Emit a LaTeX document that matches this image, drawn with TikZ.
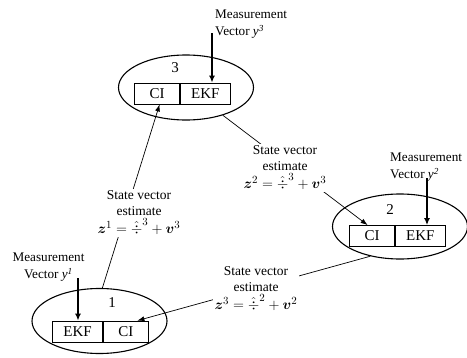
\documentclass[tikz,border=0pt]{standalone}
\usepackage{fontspec}
\setmainfont{Liberation Serif}
\usepackage{amsmath}
\usepackage{bm}
\usetikzlibrary{positioning, shapes.geometric, arrows.meta}

\newcommand{\estfont}{\fontsize{13.5}{16}\selectfont}
\newcommand{\formula}[1]{{\fontsize{15}{17}\selectfont $#1$}}

\begin{document}
\begin{tikzpicture}[
			x=1pt, y=-1pt,
			node distance=0pt,
			agent/.style={draw, ellipse, line width=1.1pt, minimum width=135pt, minimum height=65pt},
			filterbox/.style={draw, line width=0.8pt, minimum height=21pt, inner sep=0pt,
				font=\fontsize{15}{17}\selectfont},
			cibox/.style={filterbox, minimum width=45pt},
			ekfbox/.style={filterbox, minimum width=50pt},
			num/.style={font=\fontsize{15}{17}\selectfont, inner sep=0pt},
			meastext/.style={font=\fontsize{13.2}{17}\selectfont, inner sep=0pt},
			estlabel/.style={fill=white, align=center, inner sep=2pt, font=\estfont},
			link/.style={line width=0.7pt, -{Latex[length=7pt, width=5pt]}},
			meas/.style={line width=1.6pt, -{Latex[length=7pt, width=6pt]}}
			]
			
			\useasboundingbox (0,0) rectangle (467,357);
			
			% Agents
			\node[agent] (e3) at (186,87.5) {};
			\node[agent] (e2) at (400,226.5) {};
			\node[agent] (e1) at (99.5,321) {};
			
			\node[num] (n3) at (175,68) {3};
			\node[num] (n2) at (390,210) {2};
			\node[num] (n1) at (112,303) {1};
			
			% Filter boxes
			\node[cibox, anchor=east] (ci3) at (180,93.5) {CI};
			\node[ekfbox, right=of ci3] (ekf3) {EKF};
			\node[cibox, anchor=east] (ci2) at (395,236) {CI};
			\node[ekfbox, right=of ci2] (ekf2) {EKF};
			\node[ekfbox, anchor=east] (ekf1) at (103,331.5) {EKF};
			\node[cibox, right=of ekf1] (ci1) {CI};
			
			% Measurements
			\node[meastext, align=left, anchor=west] (m3) at (215,24.5) {Measurement\\Vector \textit{y\textsuperscript{3}}};
			\node[meastext, align=left, anchor=west] (m2) at (390,167.5) {Measurement\\Vector \textit{y\textsuperscript{2}}};
			\node[meastext, align=center] (m1) at (48.5,267.5) {Measurement\\Vector \textit{y\textsuperscript{1}}};
			
			\coordinate (m3tail) at (212,33);
			\coordinate (m2tail) at (427,178);
			\coordinate (m1tail) at (78,278);
			\draw[meas] (m3tail) -- (m3tail |- ekf3.north);
			\draw[meas] (m2tail) -- (m2tail |- ekf2.north);
			\draw[meas] (m1tail) -- (m1tail |- ekf1.north);
			
			% Estimates passed on
			\draw[link] (e1.85) -- ([xshift=2.5pt]ci3.south);
			\draw[link] (e3.-37) -- ([xshift=-4.5pt]ci2.north);
			\draw[link] (e2.-135) -- ([xshift=11.5pt]ci1.north);
			
			\node[estlabel] (la) at (139,213) {State vector\\estimate\\[2pt]\formula{\bm{z}^1 = \hat{\div}^3 + \bm{v}^3}};
			\node[estlabel] (lb) at (285,168) {State vector\\estimate\\[2pt]\formula{\bm{z}^2 = \hat{\div}^3 + \bm{v}^3}};
			\node[estlabel] (lc) at (256,289) {State vector\\estimate\\[2pt]\formula{\bm{z}^3 = \hat{\div}^2 + \bm{v}^2}};
			
		\end{tikzpicture}
\end{document}
